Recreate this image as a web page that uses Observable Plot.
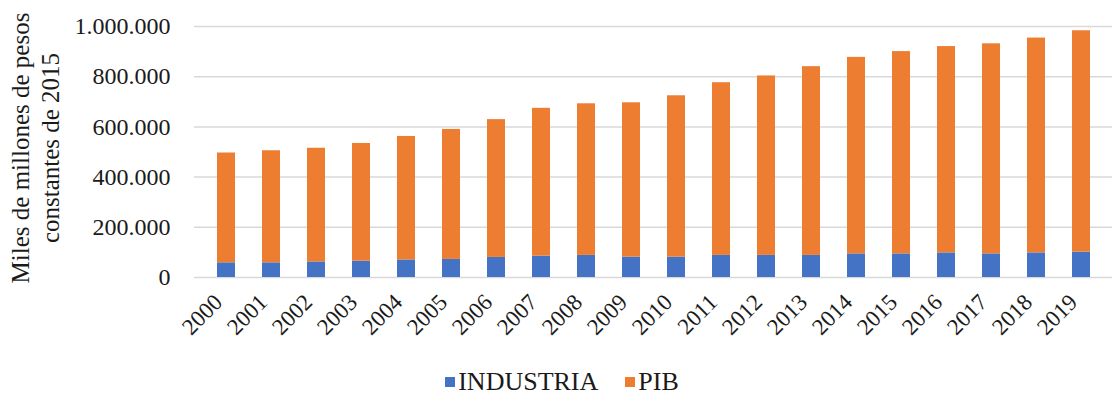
<!DOCTYPE html>
<html>
<head>
<meta charset="utf-8">
<script src="https://cdn.jsdelivr.net/npm/d3@7"></script>
<script src="https://cdn.jsdelivr.net/npm/@observablehq/plot@0.6"></script>
<style>
  html, body { margin: 0; padding: 0; background: #fff; }
  #chart { width: 1112px; height: 399px; overflow: hidden; font-family: "Liberation Serif", "DejaVu Serif", serif; }
  .legend { display: flex; justify-content: center; align-items: center; gap: 27px; height: 34px; padding-left: 12px; font-size: 26px; color: #1a1a1a; }
  .legend span.item { display: flex; align-items: center; }
  .legend span.sw { display: inline-block; width: 10px; height: 10px; margin-right: 3px; }
</style>
</head>
<body>
<div id="chart"></div>
<script>
const years = ["2000","2001","2002","2003","2004","2005","2006","2007","2008","2009",
               "2010","2011","2012","2013","2014","2015","2016","2017","2018","2019"];
const industria = [58500, 58500, 62000, 65000, 70000, 72000, 80000, 85000, 88000, 81000,
                   81000, 88000, 88000, 88000, 94000, 94000, 98000, 94000, 98000, 101000];
const pib = [437500, 446500, 453000, 469000, 492000, 518000, 549000, 589000, 604000, 615000,
             643000, 688000, 715000, 752000, 783000, 806000, 822000, 837000, 856000, 882000];
const seriesNames = ["INDUSTRIA", "PIB"];
const seriesColors = ["#4472C4", "#ED7D31"];
const yTicks = [0, 200000, 400000, 600000, 800000, 1000000];
const yLabel = "Miles de millones de pesos\nconstantes de 2015";

const rows = [];
years.forEach((y, i) => {
  rows.push({year: y, serie: seriesNames[0], value: industria[i]});
  rows.push({year: y, serie: seriesNames[1], value: pib[i]});
});

const locale = d3.formatLocale({decimal: ",", thousands: ".", grouping: [3], currency: ["$", ""]});
const fmt = locale.format(",d");

const plot = Plot.plot({
  width: 1112,
  height: 365,
  marginLeft: 194,
  marginRight: 0,
  marginTop: 26,
  marginBottom: 88,
  style: {fontFamily: "Liberation Serif, serif", background: "#fff", color: "#1a1a1a"},
  x: {domain: years, paddingInner: 0.61, paddingOuter: 0.305, label: null},
  y: {domain: [0, 1000000], label: null},
  color: {domain: seriesNames, range: seriesColors},
  marks: [
    Plot.gridY(yTicks, {stroke: "#d9d9d9", strokeOpacity: 1, strokeWidth: 1.5}),
    Plot.barY(rows, Plot.stackY({order: seriesNames}, {x: "year", y: "value", fill: "serie"})),
    Plot.axisY(yTicks, {tickSize: 0, tickPadding: 24, tickFormat: fmt, fontSize: 24, label: null}),
    Plot.axisX({tickSize: 0, tickPadding: 21, tickRotate: -45, fontSize: 23, dx: -8, label: null}),
    Plot.text([yLabel], {frameAnchor: "left", rotate: -90, dx: -160, dy: -4, text: d => d,
      fontSize: 25, lineHeight: 1.2, lineAnchor: "middle", textAnchor: "middle", fill: "#1a1a1a"})
  ]
});

const root = document.getElementById("chart");
root.appendChild(plot);
const legend = document.createElement("div");
legend.className = "legend";
seriesNames.forEach((n, i) => {
  const it = document.createElement("span");
  it.className = "item";
  const sw = document.createElement("span");
  sw.className = "sw";
  sw.style.background = seriesColors[i];
  it.appendChild(sw);
  it.appendChild(document.createTextNode(n));
  legend.appendChild(it);
});
root.appendChild(legend);
</script>
</body>
</html>
